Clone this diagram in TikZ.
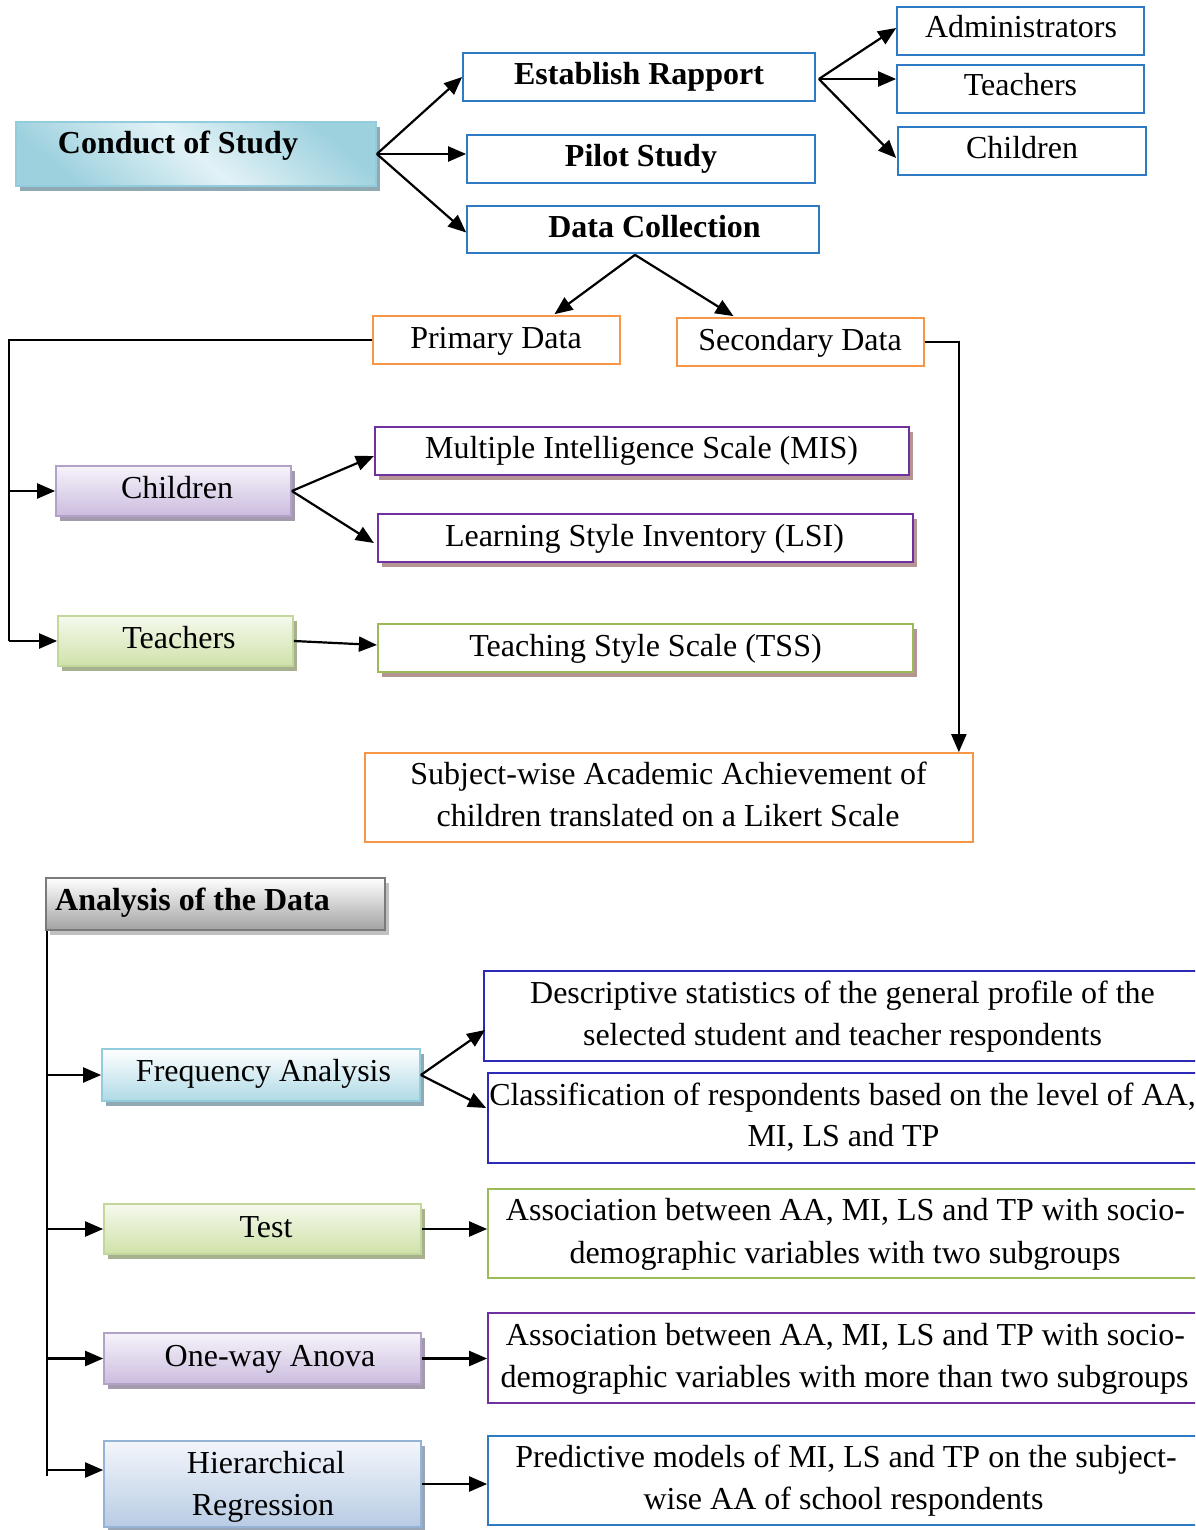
\documentclass[tikz,border=0pt]{standalone}
\usepackage{fontspec}
\setmainfont{Liberation Serif}
\usetikzlibrary{arrows.meta,shadows,calc}

% border colours
\definecolor{rimblue}{HTML}{2E7BC4}
\definecolor{rimorange}{HTML}{F79646}
\definecolor{rimpurple}{HTML}{7030A0}
\definecolor{rimgreen}{HTML}{9BBB59}
\definecolor{rimnavy}{HTML}{2B2BB8}
% shaded boxes
\definecolor{cyanrim}{HTML}{93CDDD}
\definecolor{cyandark}{HTML}{9DD1DE}
\definecolor{cyanlight}{HTML}{E2F2F6}
\definecolor{cyanshadow}{HTML}{8FAAB2}
\definecolor{lilacrim}{HTML}{B3A2C7}
\definecolor{lilactop}{HTML}{F6F3FA}
\definecolor{lilacbot}{HTML}{CBBCDF}
\definecolor{lilacshadow}{HTML}{A49AAE}
\definecolor{limerim}{HTML}{C3D69B}
\definecolor{limetop}{HTML}{F5F9ED}
\definecolor{limebot}{HTML}{CFE2A9}
\definecolor{limeshadow}{HTML}{A7B18F}
\definecolor{greyrim}{HTML}{7A7A7A}
\definecolor{greybot}{HTML}{A2A2A2}
\definecolor{greyshadow}{HTML}{C0C0C0}
\definecolor{steelrim}{HTML}{95B3D7}
\definecolor{steeltop}{HTML}{F3F6FB}
\definecolor{steelbot}{HTML}{B8CCE4}
\definecolor{steelshadow}{HTML}{98A6B8}
\definecolor{roseshadow}{HTML}{B59494}

\begin{document}
\begin{tikzpicture}[x=1pt,y=-1pt,
  box/.style={draw, line width=1.7pt, inner sep=0pt},
  shd/.style={drop shadow={shadow xshift=4pt, shadow yshift=-5pt, fill=#1, opacity=1}},
  bluebox/.style={box, draw=rimblue, fill=white},
  orangebox/.style={box, draw=rimorange, fill=white},
  scalebox/.style={box, draw=#1, line width=2.2pt, fill=white, shd=roseshadow},
  navybox/.style={box, draw=rimnavy, fill=white},
  cyanbox/.style={box, draw=cyanrim, shd=cyanshadow},
  lilacbox/.style={box, draw=lilacrim, shd=lilacshadow, top color=lilactop, bottom color=lilacbot},
  limebox/.style={box, draw=limerim, shd=limeshadow, top color=limetop, bottom color=limebot},
  lbl/.style={anchor=base, inner sep=0pt, font=\fontsize{32}{40}\selectfont},
  blbl/.style={anchor=base, inner sep=0pt, font=\fontsize{32}{40}\selectfont\bfseries},
  wire/.style={line width=2.2pt},
  arr/.style={line width=2.2pt, -{Triangle[length=18pt,width=15pt]}},
]
\useasboundingbox (0,0) rectangle (1195,1530);
\clip (0,0) rectangle (1195,1530);

%% ---------------- Conduct of the study ----------------
\node[cyanbox, top color=cyandark, bottom color=cyandark, middle color=cyanlight, shading angle=-40,
      minimum width=360pt, minimum height=64pt] (cs) at (196,154) {};
\node[blbl] (cs-t) at (178,154) {Conduct of Study};

\node[bluebox, minimum width=352pt, minimum height=48pt] (er) at (639,77) {};
\node[blbl] (er-t) at (639,85) {Establish Rapport};
\node[bluebox, minimum width=348pt, minimum height=48pt] (ps) at (641,159) {};
\node[blbl] (ps-t) at (641,167) {Pilot Study};
\node[bluebox, minimum width=352pt, minimum height=47pt] (dc) at (643,229.5) {};
\node[blbl] (dc-t) at (654.5,238) {Data Collection};

\node[bluebox, minimum width=247pt, minimum height=48pt] (adm) at (1020.5,31) {};
\node[lbl] (adm-t) at (1021,38) {Administrators};
\node[bluebox, minimum width=247pt, minimum height=48pt] (tea) at (1020.5,89) {};
\node[lbl] (tea-t) at (1020.5,96) {Teachers};
\node[bluebox, minimum width=248pt, minimum height=48pt] (chi) at (1022,151) {};
\node[lbl] (chi-t) at (1022,159) {Children};

\node[orangebox, minimum width=247pt, minimum height=48pt] (pd) at (496.5,340) {};
\node[lbl] (pd-t) at (496,348) {Primary Data};
\node[orangebox, minimum width=247pt, minimum height=48pt] (sd) at (800.5,342) {};
\node[lbl] (sd-t) at (800,350) {Secondary Data};

\node[lilacbox, minimum width=235pt, minimum height=50pt] (chL) at (173.5,491) {};
\node[lbl] (chL-t) at (177,498) {Children};
\node[limebox, minimum width=235pt, minimum height=50pt] (teL) at (175.5,641) {};
\node[lbl] (teL-t) at (179,648) {Teachers};

\node[scalebox=rimpurple, minimum width=534pt, minimum height=48pt] (mis) at (642,451) {};
\node[lbl] (mis-t) at (641.5,458) {Multiple Intelligence Scale (MIS)};
\node[scalebox=rimpurple, minimum width=535pt, minimum height=48pt] (lsi) at (645.5,538) {};
\node[lbl] (lsi-t) at (644.5,546) {Learning Style Inventory (LSI)};
\node[scalebox=rimgreen, minimum width=535pt, minimum height=48pt] (tss) at (645.5,648) {};
\node[lbl] (tss-t) at (645.5,656) {Teaching Style Scale (TSS)};

\node[orangebox, minimum width=608pt, minimum height=89pt] (saa) at (669,797.5) {};
\node[lbl] (saa-t1) at (668.5,784) {Subject-wise Academic Achievement of};
\node[lbl] (saa-t2) at (668,826) {children translated on a Likert Scale};

% connectors of the upper part
\draw[arr] (cs.east) -- (er.west);
\draw[arr] (cs.east) -- (cs.east -| ps.west);
\draw[arr] (cs.east) -- ($(dc.west)+(0,3)$);
\coordinate (er-o) at ($(er.east)+(3,2)$);
\draw[arr] (er-o) -- ($(adm.west)+(0,-3)$);
\draw[arr] (er-o) -- (er-o -| tea.west);
\draw[arr] (er-o) -- ($(chi.west)+(-1,7)$);
\coordinate (dc-o) at ($(dc.south)+(-8,1)$);
\draw[arr] (dc-o) -- ($(pd.north)+(58,-1)$);
\draw[arr] (dc-o) -- ($(sd.north)+(-67,-1)$);

\coordinate (busA) at ($(pd.west)+(-363,0)$);
\draw[wire] (pd.west) -- (busA) -- (busA |- teL.west);
\draw[arr] (busA |- chL.west) -- (chL.west);
\draw[arr] (busA |- teL.west) -- (teL.west);
\coordinate (saa-in) at ($(saa.north east)+(-15,0)$);
\draw[arr] (sd.east) -| (saa-in);

\draw[arr] (chL.east) -- ($(mis.west)+(0,5)$);
\draw[arr] (chL.east) -- ($(lsi.west)+(-3,5)$);
\draw[arr] (teL.east) -- ($(tss.west)+(0,-3)$);

%% ---------------- Analysis of the data ----------------
\node[box, draw=greyrim, shd=greyshadow, top color=white, bottom color=greybot,
      minimum width=339pt, minimum height=52pt] (ad) at (215.5,904) {};
\node[blbl, anchor=base west] (ad-t) at (55,910) {Analysis of the Data};

\node[cyanbox, top color=white, bottom color=cyanrim!75, minimum width=318pt, minimum height=52pt] (fa) at (261,1075) {};
\node[lbl] (fa-t) at (263.5,1081) {Frequency Analysis};
\node[limebox, minimum width=317pt, minimum height=50pt] (test) at (262.5,1229) {};
\node[lbl] (test-t) at (266,1237) {Test};
\node[lilacbox, minimum width=317pt, minimum height=51pt] (anova) at (262.5,1358.5) {};
\node[lbl] (anova-t) at (270,1366) {One-way Anova};
\node[box, draw=steelrim, shd=steelshadow, top color=steeltop, bottom color=steelbot,
      minimum width=317pt, minimum height=86pt] (hr) at (262.5,1484) {};
\node[lbl] (hr-t1) at (266,1473) {Hierarchical};
\node[lbl] (hr-t2) at (263,1515) {Regression};

\node[navybox, minimum width=726pt, minimum height=90pt] (ds) at (847,1016) {};
\node[lbl] (ds-t1) at (842.5,1003) {Descriptive statistics of the general profile of the};
\node[lbl] (ds-t2) at (842.5,1045) {selected student and teacher respondents};
\node[navybox, minimum width=722pt, minimum height=90pt] (cl) at (849,1118) {};
\node[lbl] (cl-t1) at (842.5,1105) {Classification of respondents based on the level of AA,};
\node[lbl] (cl-t2) at (843.5,1146) {MI, LS and TP};
\node[box, draw=rimgreen, fill=white, minimum width=722pt, minimum height=89pt] (as1) at (849,1233.5) {};
\node[lbl] (as1-t1) at (845.5,1220) {Association between AA, MI, LS and TP with socio-};
\node[lbl] (as1-t2) at (845,1263) {demographic variables with two subgroups};
\node[box, draw=rimpurple, fill=white, minimum width=722pt, minimum height=90pt] (as2) at (849,1358) {};
\node[lbl] (as2-t1) at (845.5,1345) {Association between AA, MI, LS and TP with socio-};
\node[lbl] (as2-t2) at (844.5,1387) {demographic variables with more than two subgroups};
\node[bluebox, minimum width=722pt, minimum height=89pt] (pm) at (849,1480.5) {};
\node[lbl] (pm-t1) at (846,1467) {Predictive models of MI, LS and TP on the subject-};
\node[lbl] (pm-t2) at (843.5,1509) {wise AA of school respondents};

% connectors of the lower part
\coordinate (busB) at ($(ad.south west)+(2,0)$);
\draw[wire] (busB) -- ($(busB)+(0,545)$);
\draw[arr] (busB |- fa.west) -- (fa.west);
\draw[arr] (busB |- test.west) -- (test.west);
\draw[arr] (busB |- anova.west) -- (anova.west);
\draw[arr] ($(busB |- hr.west)+(0,-14)$) -- ($(hr.west)+(0,-14)$);

\draw[arr] (fa.east) -- ($(ds.west)+(2,14)$);
\draw[arr] (fa.east) -- ($(cl.west)+(-1,-10)$);
\draw[arr] (test.east) -- (test.east -| as1.west);
\draw[arr] (anova.east) -- (anova.east -| as2.west);
\draw[arr] (hr.east) -- (hr.east -| pm.west);
\end{tikzpicture}
\end{document}
